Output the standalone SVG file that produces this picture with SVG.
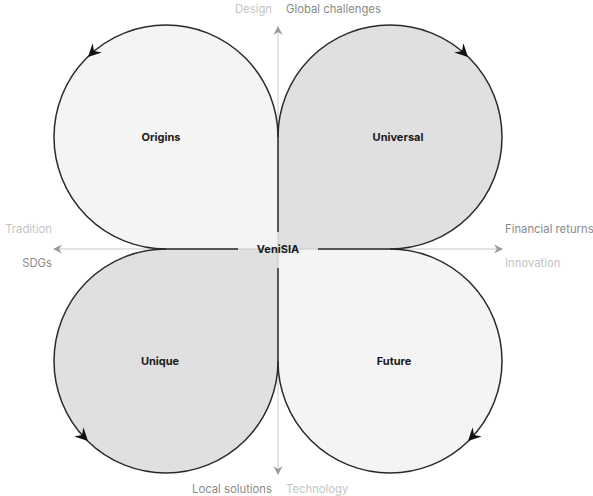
<svg xmlns="http://www.w3.org/2000/svg" width="593" height="496" viewBox="0 0 593 496">
<defs>
<style>
.petal-light{fill:#f4f4f4;stroke:none}
.petal-dark{fill:#e0e0e0;stroke:none}
.arc{fill:none;stroke:#2a2a2a;stroke-width:1.5}
.axisline{stroke:#c8c8c8;stroke-width:1;fill:none}
.darkline{stroke:#2a2a2a;stroke-width:1.5;fill:none}
.lbl{font-family:Inter,"Liberation Sans",sans-serif;font-size:11px;font-weight:700;fill:#1a1a1a;text-anchor:middle}
.ax1{font-family:Inter,"Liberation Sans",sans-serif;font-size:11.3px;fill:#8a8a8a}
.ax2{font-family:Inter,"Liberation Sans",sans-serif;font-size:11.3px;fill:#c4c4c4}
.head{fill:#111}
.ghead{fill:#999}
</style>
<path id="ah" d="M0,0 L-13,-6.5 L-8.5,0 L-13,6.5 Z"/>
<path id="gh" d="M0,0 L-9,-4.5 L-6,0 L-9,4.5 Z"/>
</defs>
<rect width="593" height="496" fill="#ffffff"/>
<g id="origins">
<path class="petal-light" d="M278,249 L278,137 A112,112 0 1 0 166,249 Z"/>
<text class="lbl" x="161" y="141">Origins</text>
</g>
<g id="universal">
<path class="petal-dark" d="M278,249 L278,137 A112,112 0 1 1 390,249 Z"/>
<text class="lbl" x="398" y="141">Universal</text>
</g>
<g id="unique">
<path class="petal-dark" d="M278,249 L166,249 A112,112 0 1 0 278,361 Z"/>
<text class="lbl" x="160" y="365">Unique</text>
</g>
<g id="future">
<path class="petal-light" d="M278,249 L390,249 A112,112 0 1 1 278,361 Z"/>
<text class="lbl" x="394" y="365">Future</text>
</g>
<g id="connectors">
<line class="axisline" x1="278" y1="30" x2="278" y2="472"/>
<line class="axisline" x1="56" y1="249" x2="500" y2="249"/>
<use href="#gh" class="ghead" transform="translate(278,26) rotate(-90)"/>
<use href="#gh" class="ghead" transform="translate(278,475) rotate(90)"/>
<use href="#gh" class="ghead" transform="translate(53,249) rotate(180)"/>
<use href="#gh" class="ghead" transform="translate(503,249)"/>
<path class="arc" d="M278,137 A112,112 0 1 0 166,249"/>
<path class="arc" d="M278,137 A112,112 0 1 1 390,249"/>
<path class="arc" d="M166,249 A112,112 0 1 0 278,361"/>
<path class="arc" d="M390,249 A112,112 0 1 1 278,361"/>
<line class="darkline" x1="278" y1="137" x2="278" y2="232"/>
<line class="darkline" x1="278" y1="268" x2="278" y2="361"/>
<line class="darkline" x1="166" y1="249" x2="238" y2="249"/>
<line class="darkline" x1="318" y1="249" x2="390" y2="249"/>
<use href="#ah" class="head" transform="translate(88,57) rotate(135)"/>
<use href="#ah" class="head" transform="translate(468,57) rotate(45)"/>
<use href="#ah" class="head" transform="translate(88,441) rotate(45)"/>
<use href="#ah" class="head" transform="translate(468,441) rotate(135)"/>
</g>
<g id="center">
<text class="lbl" x="278" y="253">VeniSIA</text>
</g>
<g id="axis-labels">
<text class="ax2" x="272" y="13" text-anchor="end">Design</text>
<text class="ax1" x="286" y="13">Global challenges</text>
<text class="ax2" x="52" y="233" text-anchor="end">Tradition</text>
<text class="ax1" x="52" y="267" text-anchor="end">SDGs</text>
<text class="ax1" x="505" y="233">Financial returns</text>
<text class="ax2" x="505" y="267">Innovation</text>
<text class="ax1" x="272" y="493" text-anchor="end">Local solutions</text>
<text class="ax2" x="286" y="493">Technology</text>
</g>
</svg>
